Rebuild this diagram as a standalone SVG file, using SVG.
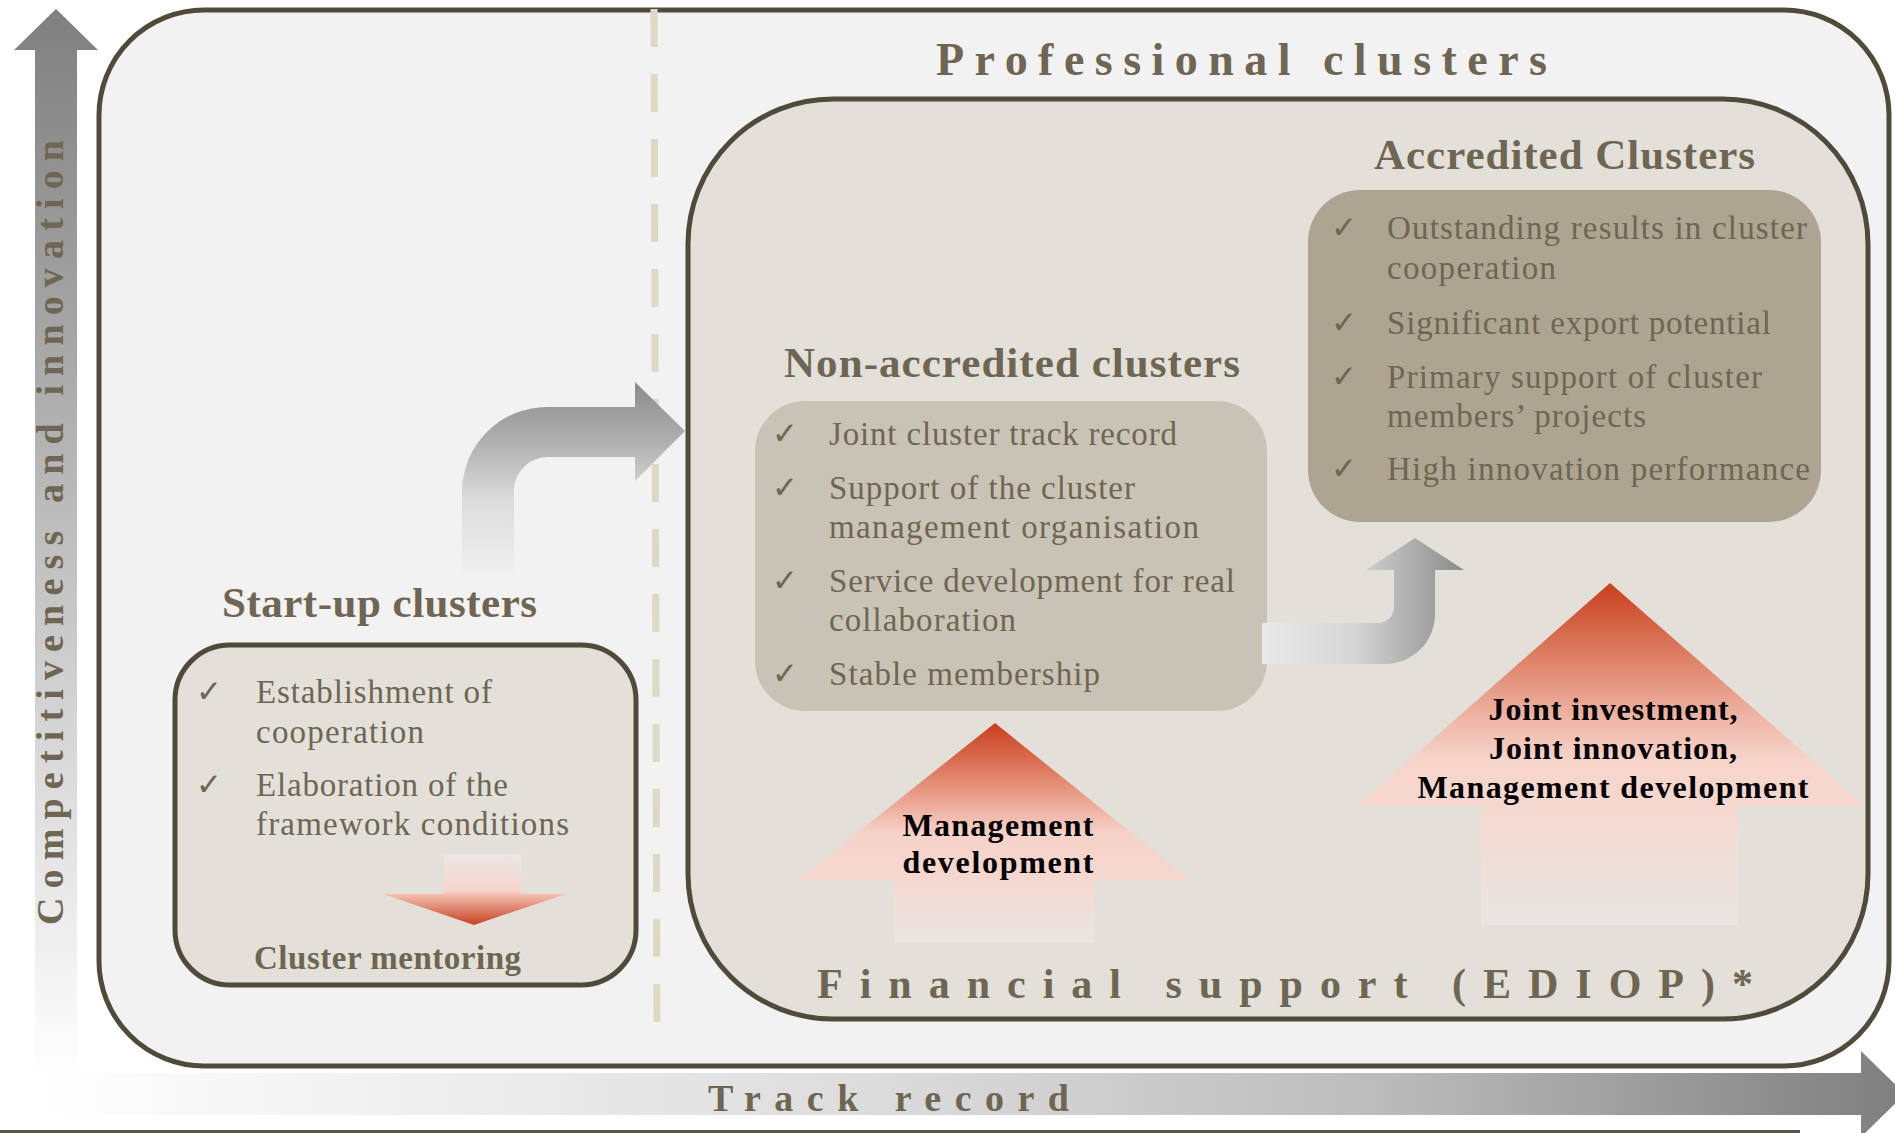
<svg xmlns="http://www.w3.org/2000/svg" width="1895" height="1133" viewBox="0 0 1895 1133">
<defs>
<style>
.t{font-family:"Liberation Serif","DejaVu Serif",serif;fill:#6e6652}
.ttl{font-weight:bold;font-size:43px}
.it{font-size:33px}
.sp{font-weight:bold}
.lbl{font-family:"Liberation Serif","DejaVu Serif",serif;font-weight:bold;font-size:32px;fill:#000;text-anchor:middle}
.chk{font-family:"DejaVu Sans",sans-serif;font-size:31px;fill:#6e6652}
.box{stroke:#4f4a3a;stroke-width:5}
</style>
<linearGradient id="gV" gradientUnits="userSpaceOnUse" x1="0" y1="9" x2="0" y2="1075">
<stop offset="0" stop-color="#7f7f7f"/><stop offset="1" stop-color="#ffffff"/>
</linearGradient>
<linearGradient id="gH" gradientUnits="userSpaceOnUse" x1="35" y1="0" x2="1900" y2="0">
<stop offset="0" stop-color="#ffffff"/><stop offset="0.45" stop-color="#dcdcdc"/><stop offset="0.72" stop-color="#bcbcbc"/><stop offset="1" stop-color="#7f7f7f"/>
</linearGradient>
<linearGradient id="gC1" gradientUnits="userSpaceOnUse" x1="0" y1="382" x2="0" y2="580">
<stop offset="0" stop-color="#8a8a8a"/><stop offset="0.3" stop-color="#b0b0b0"/><stop offset="0.6" stop-color="#dcdcdc"/><stop offset="1" stop-color="#f2f2f2"/>
</linearGradient>
<linearGradient id="gC2" gradientUnits="userSpaceOnUse" x1="1262" y1="0" x2="1464" y2="0">
<stop offset="0" stop-color="#e9e9e9"/><stop offset="0.45" stop-color="#d6d6d6"/><stop offset="1" stop-color="#8a8a8a"/>
</linearGradient>
<linearGradient id="gR1" gradientUnits="userSpaceOnUse" x1="0" y1="723" x2="0" y2="943">
<stop offset="0" stop-color="#c8401e"/><stop offset="0.15" stop-color="#d8674a"/><stop offset="0.35" stop-color="#eba492"/><stop offset="0.5" stop-color="#f6d2c8"/><stop offset="0.72" stop-color="#f5d8d0"/><stop offset="1" stop-color="#e9e5e2"/>
</linearGradient>
<linearGradient id="gR2" gradientUnits="userSpaceOnUse" x1="0" y1="583" x2="0" y2="925">
<stop offset="0" stop-color="#c8401e"/><stop offset="0.2" stop-color="#dc7a5f"/><stop offset="0.4" stop-color="#efb7a7"/><stop offset="0.52" stop-color="#f7d4ca"/><stop offset="0.65" stop-color="#f5d8d0"/><stop offset="1" stop-color="#e9e5e2"/>
</linearGradient>
<linearGradient id="gR3" gradientUnits="userSpaceOnUse" x1="0" y1="854" x2="0" y2="925">
<stop offset="0" stop-color="#ece6e5"/><stop offset="0.5" stop-color="#f6d6cd"/><stop offset="0.58" stop-color="#f2bcad"/><stop offset="1" stop-color="#c8401e"/>
</linearGradient>
</defs>
<rect width="1895" height="1133" fill="#ffffff"/>

<g id="axis-vertical">
<path d="M35,1075 L35,50 L14,50 L56,9 L98,50 L77,50 L77,1075 Z" fill="url(#gV)"/>
<text class="t sp" font-size="38" transform="translate(63,925) rotate(-90)" textLength="785" lengthAdjust="spacing">Competitiveness and innovation</text>
</g>

<g id="axis-horizontal">
<path d="M35,1073 L1861,1073 L1861,1051 L1905,1094 L1861,1137 L1861,1115 L35,1115 Z" fill="url(#gH)"/>
<text class="t sp" font-size="38" x="708" y="1111" textLength="361" lengthAdjust="spacing">Track record</text>
<line x1="0" y1="1131.5" x2="1800" y2="1131.5" stroke="#5a5444" stroke-width="3"/>
</g>

<g id="outer-frame">
<rect x="99" y="10" width="1790" height="1056" rx="105" ry="105" fill="#f2f2f2" class="box"/>
<line x1="654" y1="9" x2="657" y2="1046" stroke="#ddd9c4" stroke-width="7" stroke-dasharray="38 27"/>
</g>

<g id="professional-clusters">
<text class="t sp" font-size="46" x="936" y="75" textLength="611" lengthAdjust="spacing">Professional clusters</text>
<rect x="688" y="99" width="1180" height="920" rx="145" ry="145" fill="#e3e0da" class="box"/>
<text class="t sp" font-size="42" x="817" y="998" textLength="936" lengthAdjust="spacing">Financial support (EDIOP)*</text>
</g>

<g id="start-up-clusters">
<text class="t ttl" x="222" y="617" textLength="315" lengthAdjust="spacing">Start-up clusters</text>
<rect x="175" y="645" width="461" height="340" rx="55" ry="55" fill="#e3e0da" class="box"/>
<text class="chk" x="196" y="702">✓</text>
<text class="t it" x="256" y="703" textLength="236">Establishment of</text>
<text class="t it" x="256" y="743" textLength="168">cooperation</text>
<text class="chk" x="196" y="795">✓</text>
<text class="t it" x="256" y="796" textLength="252">Elaboration of the</text>
<text class="t it" x="256" y="835" textLength="313">framework conditions</text>
<path d="M444,854 L521,854 L521,894 L566,894 L474,925 L383,894 L444,894 Z" fill="url(#gR3)"/>
<text class="t it sp" x="254" y="969" textLength="267">Cluster mentoring</text>
</g>

<g id="non-accredited-clusters">
<text class="t ttl" x="784" y="377" textLength="456" lengthAdjust="spacing">Non-accredited clusters</text>
<rect x="755" y="401" width="512" height="310" rx="50" ry="50" fill="#c9c3b6"/>
<text class="chk" x="772" y="444">✓</text>
<text class="t it" x="829" y="445" textLength="348">Joint cluster track record</text>
<text class="chk" x="772" y="498">✓</text>
<text class="t it" x="829" y="499" textLength="306">Support of the cluster</text>
<text class="t it" x="829" y="538" textLength="370">management organisation</text>
<text class="chk" x="772" y="591">✓</text>
<text class="t it" x="829" y="592" textLength="406">Service development for real</text>
<text class="t it" x="829" y="631" textLength="187">collaboration</text>
<text class="chk" x="772" y="684">✓</text>
<text class="t it" x="829" y="685" textLength="271">Stable membership</text>
</g>

<g id="accredited-clusters">
<text class="t ttl" x="1374" y="169" textLength="381" lengthAdjust="spacing">Accredited Clusters</text>
<rect x="1308" y="190" width="513" height="332" rx="52" ry="52" fill="#ada591"/>
<text class="chk" x="1331" y="238">✓</text>
<text class="t it" x="1387" y="239" textLength="420">Outstanding results in cluster</text>
<text class="t it" x="1387" y="279" textLength="169">cooperation</text>
<text class="chk" x="1331" y="333">✓</text>
<text class="t it" x="1387" y="334" textLength="384">Significant export potential</text>
<text class="chk" x="1331" y="387">✓</text>
<text class="t it" x="1387" y="388" textLength="375">Primary support of cluster</text>
<text class="t it" x="1387" y="427" textLength="259">members’ projects</text>
<text class="chk" x="1331" y="479">✓</text>
<text class="t it" x="1387" y="480" textLength="423">High innovation performance</text>
</g>

<g id="management-development">
<path d="M995,723 L1190,880 L1094,880 L1094,943 L894,943 L894,880 L798,880 Z" fill="url(#gR1)"/>
<text class="lbl" x="998" y="836" textLength="191">Management</text>
<text class="lbl" x="998" y="873" textLength="191">development</text>
</g>

<g id="joint-investment">
<path d="M1610,583 L1865,806 L1738,806 L1738,925 L1481,925 L1481,806 L1357,806 Z" fill="url(#gR2)"/>
<text class="lbl" x="1613" y="720" textLength="249">Joint investment,</text>
<text class="lbl" x="1613" y="759" textLength="248">Joint innovation,</text>
<text class="lbl" x="1613" y="798" textLength="391">Management development</text>
</g>

<g id="connectors">
<path d="M462,580 L462,492 A85,85 0 0 1 547,407 L635,407 L635,382 L685,431 L635,481 L635,457 L548,457 A34,34 0 0 0 514,491 L514,580 Z" fill="url(#gC1)"/>
<path d="M1262,623 L1378,623 A16,16 0 0 0 1394,607 L1394,570 L1366,570 L1415,538 L1464,570 L1435,570 L1435,614 A50,50 0 0 1 1385,664 L1262,664 Z" fill="url(#gC2)"/>
</g>
</svg>
